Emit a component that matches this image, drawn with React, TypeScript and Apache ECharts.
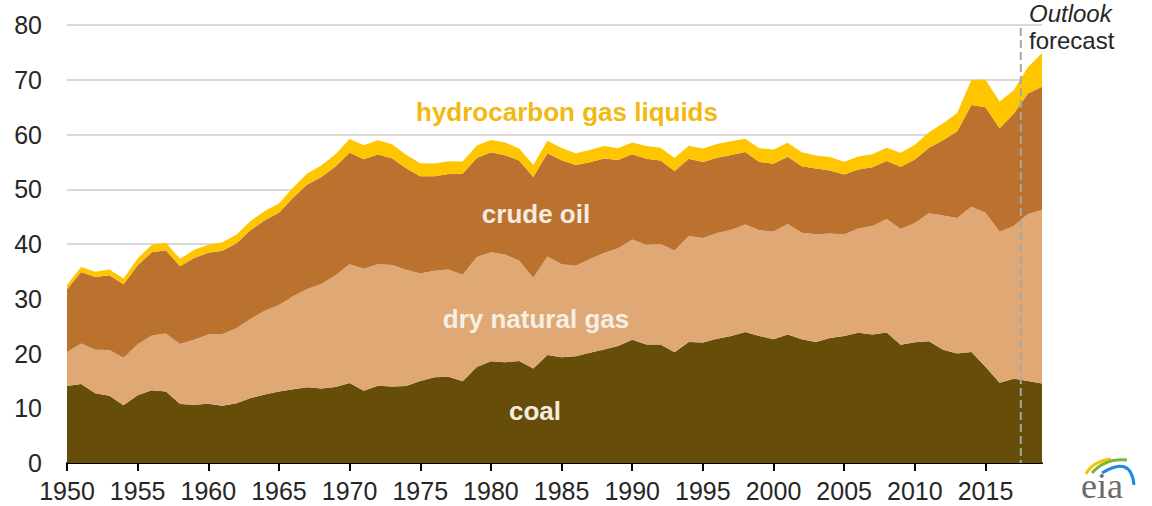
import React, { useEffect, useRef } from "react";
import * as echarts from "echarts";

const startYear = 1950;
const endYear = 2019;
const lastHistoryYear = 2017;
const firstForecastYear = 2018;
const years: string[] = Array.from({ length: endYear - startYear + 1 }, (_, i) => String(startYear + i));

const coal = [
  14.06, 14.41, 12.73, 12.28, 10.54, 12.37, 13.31, 13.06, 10.78, 10.62,
  10.82, 10.45, 10.9, 11.85, 12.52, 13.06, 13.47, 13.83, 13.61, 13.86,
  14.61, 13.19, 14.09, 13.99, 14.07, 14.99, 15.65, 15.76, 14.91, 17.54,
  18.6, 18.38, 18.64, 17.25, 19.72, 19.33, 19.51, 20.14, 20.74, 21.36,
  22.49, 21.64, 21.63, 20.25, 22.11, 22.03, 22.68, 23.21, 23.94, 23.19,
  22.62, 23.49, 22.62, 22.09, 22.85, 23.19, 23.79, 23.49, 23.85, 21.62,
  22.04, 22.22, 20.68, 20.0, 20.28, 17.6, 14.67, 15.4, 15.0, 14.5,
];

const dryNaturalGas = [
  6.23, 7.42, 7.96, 8.34, 8.68, 9.34, 10.0, 10.6, 10.94, 11.9,
  12.66, 13.11, 13.72, 14.51, 15.3, 15.78, 16.99, 17.94, 19.07, 20.45,
  21.67, 22.28, 22.21, 22.19, 21.21, 19.64, 19.48, 19.57, 19.49, 20.08,
  19.91, 19.7, 18.32, 16.59, 18.01, 16.98, 16.54, 17.14, 17.6, 17.85,
  18.33, 18.23, 18.38, 18.58, 19.35, 19.08, 19.34, 19.39, 19.61, 19.34,
  19.66, 20.17, 19.44, 19.69, 19.09, 18.56, 19.02, 19.79, 20.7, 21.14,
  21.81, 23.41, 24.53, 24.75, 26.53, 28.1, 27.56, 27.9, 30.5, 31.7,
];

const crudeOil = [
  11.45, 13.04, 13.28, 13.67, 13.43, 14.41, 15.18, 15.18, 14.2, 14.93,
  14.93, 15.22, 15.52, 16.18, 16.52, 16.85, 18.01, 19.12, 19.56, 19.84,
  20.4, 20.03, 20.04, 19.49, 18.57, 17.73, 17.26, 17.45, 18.43, 18.1,
  18.25, 18.15, 18.31, 18.39, 18.85, 18.99, 18.38, 17.67, 17.28, 16.12,
  15.57, 15.7, 15.22, 14.49, 14.1, 13.89, 13.72, 13.66, 13.24, 12.45,
  12.36, 12.28, 12.16, 12.03, 11.5, 10.96, 10.8, 10.72, 10.61, 11.35,
  11.59, 11.94, 13.76, 15.84, 18.59, 19.3, 18.9, 20.5, 22.0, 22.5,
];

const hydrocarbonGasLiquids = [
  0.82, 0.93, 0.98, 1.03, 1.06, 1.24, 1.37, 1.37, 1.37, 1.5,
  1.46, 1.54, 1.59, 1.68, 1.71, 1.73, 1.86, 1.98, 2.12, 2.26,
  2.51, 2.54, 2.6, 2.57, 2.47, 2.37, 2.33, 2.33, 2.25, 2.29,
  2.25, 2.31, 2.19, 2.18, 2.27, 2.24, 2.15, 2.22, 2.26, 2.16,
  2.17, 2.31, 2.36, 2.41, 2.39, 2.44, 2.53, 2.5, 2.42, 2.53,
  2.61, 2.55, 2.56, 2.35, 2.47, 2.33, 2.36, 2.41, 2.42, 2.57,
  2.69, 2.85, 3.1, 3.33, 4.6, 5.0, 4.9, 4.3, 4.8, 6.2,
];

const yTickValues = [0, 10, 20, 30, 40, 50, 60, 70, 80];

const seriesNames = ["coal", "dry natural gas", "crude oil", "hydrocarbon gas liquids"];
const seriesValues = [coal, dryNaturalGas, crudeOil, hydrocarbonGasLiquids];
const seriesColors = ["#664e0a", "#e0a874", "#bb722e", "#ffc600"];

const FONT = '"Liberation Sans", Arial, sans-serif';

export default function App() {
  const ref = useRef<HTMLDivElement>(null);

  useEffect(() => {
    document.body.style.margin = "0";
    if (!ref.current) return;
    const chart = echarts.init(ref.current, null, { renderer: "svg" });

    const series: any[] = seriesNames.map((name, si) => ({
      name,
      type: "line",
      stack: "total",
      symbol: "none",
      lineStyle: { width: 0 },
      areaStyle: { color: seriesColors[si], opacity: 1 },
      itemStyle: { color: seriesColors[si] },
      data: seriesValues[si],
      z: 2,
    }));

    const labelStyle = (text: string, x: number, y: number, fill: string) => ({
      type: "text",
      x,
      y,
      z: 10,
      style: {
        text,
        fill,
        font: `bold 26px ${FONT}`,
        align: "center",
        verticalAlign: "middle",
      },
    });

    const baseGraphics: any[] = [
      labelStyle("hydrocarbon gas liquids", 567, 112, "#f2b90f"),
      labelStyle("crude oil", 536, 214, "#f5ebe0"),
      labelStyle("dry natural gas", 536, 319, "#f7eee4"),
      labelStyle("coal", 535, 411, "#f5ebe0"),
      {
        type: "text",
        x: 1029,
        y: 13,
        style: { text: "Outlook", fill: "#262626", font: `italic 24px ${FONT}`, align: "left", verticalAlign: "middle" },
      },
      {
        type: "text",
        x: 1029,
        y: 40,
        style: { text: "forecast", fill: "#262626", font: `24px ${FONT}`, align: "left", verticalAlign: "middle" },
      },
      {
        type: "text",
        x: 1081,
        y: 486,
        style: { text: "eia", fill: "#6b6b6b", font: `36px "Liberation Serif", serif`, align: "left", verticalAlign: "middle" },
      },
      {
        type: "bezierCurve",
        shape: { x1: 1086, y1: 474, cpx1: 1093, cpy1: 461, x2: 1111, y2: 459 },
        style: { stroke: "#f5c400", lineWidth: 3, fill: null },
      },
      {
        type: "bezierCurve",
        shape: { x1: 1092, y1: 473, cpx1: 1105, cpy1: 458, x2: 1127, y2: 460 },
        style: { stroke: "#7cb342", lineWidth: 3, fill: null },
      },
      {
        type: "bezierCurve",
        shape: { x1: 1102, y1: 473, cpx1: 1131, cpy1: 455, x2: 1134, y2: 485 },
        style: { stroke: "#1e88e5", lineWidth: 3, fill: null },
      },
    ];

    chart.setOption({
      animation: false,
      backgroundColor: "#ffffff",
      grid: { left: 67, right: 110, top: 25, bottom: 43, outerBoundsMode: "none" },
      xAxis: {
        type: "category",
        data: years,
        boundaryGap: false,
        axisLine: { show: true, lineStyle: { color: "#000000", width: 2 } },
        axisTick: { show: true, interval: 4, length: 8, lineStyle: { color: "#000000", width: 2 } },
        axisLabel: {
          interval: 4,
          color: "#262626",
          fontSize: 25,
          fontFamily: FONT,
          margin: 15,
        },
        splitLine: { show: false },
      },
      yAxis: {
        type: "value",
        min: yTickValues[0],
        max: yTickValues[yTickValues.length - 1],
        interval: 10,
        axisLine: { show: false },
        axisTick: { show: false },
        axisLabel: { color: "#262626", fontSize: 25, fontFamily: FONT, margin: 25 },
        splitLine: { show: true, lineStyle: { color: "#d9d9d9", width: 2 } },
      },
      series,
      graphic: baseGraphics,
    });

    // Dashed divider between history and forecast, placed via the axis scale
    const xa = chart.convertToPixel({ xAxisIndex: 0 }, String(lastHistoryYear)) as number;
    const xb = chart.convertToPixel({ xAxisIndex: 0 }, String(firstForecastYear)) as number;
    const yTop = chart.convertToPixel({ yAxisIndex: 0 }, yTickValues[yTickValues.length - 1]) as number;
    const yBottom = chart.convertToPixel({ yAxisIndex: 0 }, yTickValues[0]) as number;
    const xm = (xa + xb) / 2;
    chart.setOption({
      graphic: [
        ...baseGraphics,
        {
          type: "line",
          z: 5,
          shape: { x1: xm, y1: yTop + 3, x2: xm, y2: yBottom },
          style: { stroke: "#a6a6a6", lineWidth: 2, lineDash: [8, 4] },
        },
      ],
    });

    return () => chart.dispose();
  }, []);

  return <div ref={ref} style={{ width: 1152, height: 506 }} />;
}
